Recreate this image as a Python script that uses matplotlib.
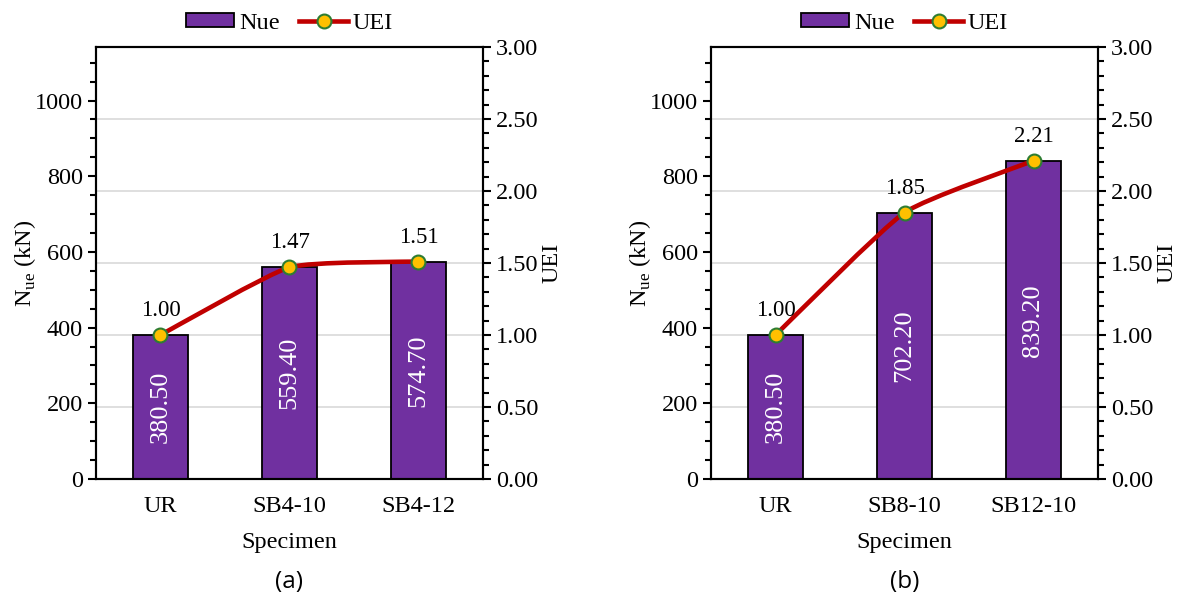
import matplotlib
matplotlib.use("Agg")
import matplotlib.pyplot as plt
from matplotlib.ticker import MultipleLocator, FormatStrFormatter
from matplotlib.lines import Line2D
from matplotlib.patches import Patch, PathPatch
from matplotlib.path import Path
from matplotlib.transforms import blended_transform_factory

plt.rcParams['font.family'] = ['Liberation Serif', 'DejaVu Serif']
plt.rcParams['font.size'] = 17.5

# panel (a)
specimens_a = ["UR", "SB4-10", "SB4-12"]
nue_a = [380.50, 559.40, 574.70]
uei_a = [1.00, 1.47, 1.51]

# panel (b)
specimens_b = ["UR", "SB8-10", "SB12-10"]
nue_b = [380.50, 702.20, 839.20]
uei_b = [1.00, 1.85, 2.21]

panels = [(specimens_a, nue_a, uei_a, "(a)"),
          (specimens_b, nue_b, uei_b, "(b)")]

bar_color = "#7030A0"
line_color = "#C00000"
marker_face = "#FFC000"
marker_edge = "#2E7D32"
grid_color = "#D9D9D9"

left_max = 1141.5
right_max = 3.0


def smooth_path(xs, ys, k=12):
    # gently smoothed line: cubic bezier through the points
    pts = list(zip(xs, ys))
    verts = [pts[0]]
    codes = [Path.MOVETO]
    n = len(pts)
    for i in range(n - 1):
        p0 = pts[max(i - 1, 0)]
        p1 = pts[i]
        p2 = pts[i + 1]
        p3 = pts[min(i + 2, n - 1)]
        c1 = (p1[0] + (p2[0] - p0[0]) / k, p1[1] + (p2[1] - p0[1]) / k)
        c2 = (p2[0] - (p3[0] - p1[0]) / k, p2[1] - (p3[1] - p1[1]) / k)
        verts += [c1, c2, p2]
        codes += [Path.CURVE4] * 3
    return Path(verts, codes)


fig = plt.figure(figsize=(11.83, 5.99), dpi=100)
lefts = [96 / 1183, 711 / 1183]

for (names, nue, uei, tag), lx in zip(panels, lefts):
    ax = fig.add_axes([lx, 120 / 599, 387 / 1183, 432 / 599])
    ax2 = ax.twinx()
    x = list(range(len(names)))

    # gridlines follow the right axis major ticks, drawn behind the bars
    trans = blended_transform_factory(ax.transAxes, ax2.transData)
    for g in [0.5, 1.0, 1.5, 2.0, 2.5]:
        ax.plot([0, 1], [g, g], transform=trans, color=grid_color,
                lw=1.2, zorder=0)

    bars = ax.bar(x, nue, width=0.43, color=bar_color, edgecolor="black",
                  linewidth=1.3, zorder=2)
    ax.bar_label(bars, labels=["%.2f" % v for v in nue], label_type="center",
                 rotation=90, color="white", fontsize=19)

    ax2.add_patch(PathPatch(smooth_path(x, uei), facecolor="none",
                            edgecolor=line_color, lw=3.3, zorder=3,
                            capstyle="round", joinstyle="round"))
    ax2.plot(x, uei, linestyle="none", marker="o", ms=10,
             markerfacecolor=marker_face, markeredgecolor=marker_edge,
             markeredgewidth=1.5, zorder=4)
    for xi, v in zip(x, uei):
        ax2.annotate("%.2f" % v, (xi, v), xytext=(0, 10),
                     textcoords="offset points", ha="center", va="bottom",
                     fontsize=16.5)

    ax.set_xlim(-0.5, len(names) - 0.5)
    ax.set_ylim(0, left_max)
    ax2.set_ylim(0, right_max)
    ax.set_xticks(x)
    ax.set_xticklabels(names)
    ax.tick_params(axis="x", length=0, pad=12)

    ax.yaxis.set_major_locator(MultipleLocator(200))
    ax.yaxis.set_minor_locator(MultipleLocator(50))
    ax.tick_params(axis="y", which="major", direction="out", length=6,
                   width=1.5)
    ax.tick_params(axis="y", which="minor", direction="out", length=4,
                   width=1.5)
    ax2.yaxis.set_major_locator(MultipleLocator(0.5))
    ax2.yaxis.set_minor_locator(MultipleLocator(0.1))
    ax2.yaxis.set_major_formatter(FormatStrFormatter("%.2f"))
    ax2.tick_params(axis="y", which="major", direction="out", length=6,
                    width=1.5)
    ax2.tick_params(axis="y", which="minor", direction="out", length=4,
                    width=1.5)

    for a in (ax, ax2):
        for s in a.spines.values():
            s.set_linewidth(1.5)
            s.set_color("black")

    ax.set_ylabel(r"N$_{\mathregular{ue}}$ (kN)")
    ax.yaxis.set_label_coords(-0.15, 0.5)
    ax2.set_ylabel("UEI")
    ax2.yaxis.set_label_coords(1.150, 0.5)
    ax.set_xlabel("Specimen", labelpad=11)

    handles = [Patch(facecolor=bar_color, edgecolor="black", linewidth=1.3),
               Line2D([], [], color=line_color, lw=3.3, marker="o", ms=10,
                      markerfacecolor=marker_face,
                      markeredgecolor=marker_edge, markeredgewidth=1.5)]
    ax.legend(handles, ["Nue", "UEI"], loc="lower center",
              bbox_to_anchor=(0.5, 1.0), ncol=2, frameon=False,
              handlelength=2.0, handleheight=0.5, handletextpad=0.2,
              columnspacing=0.8, borderaxespad=0.15, fontsize=17.5)

    fig.text(lx + 387 / 1183 / 2, 17 / 599, tag, ha="center", va="center",
             fontsize=17.5, family=["Open Sans", "DejaVu Sans"])

fig.savefig("out.png", dpi=100)
